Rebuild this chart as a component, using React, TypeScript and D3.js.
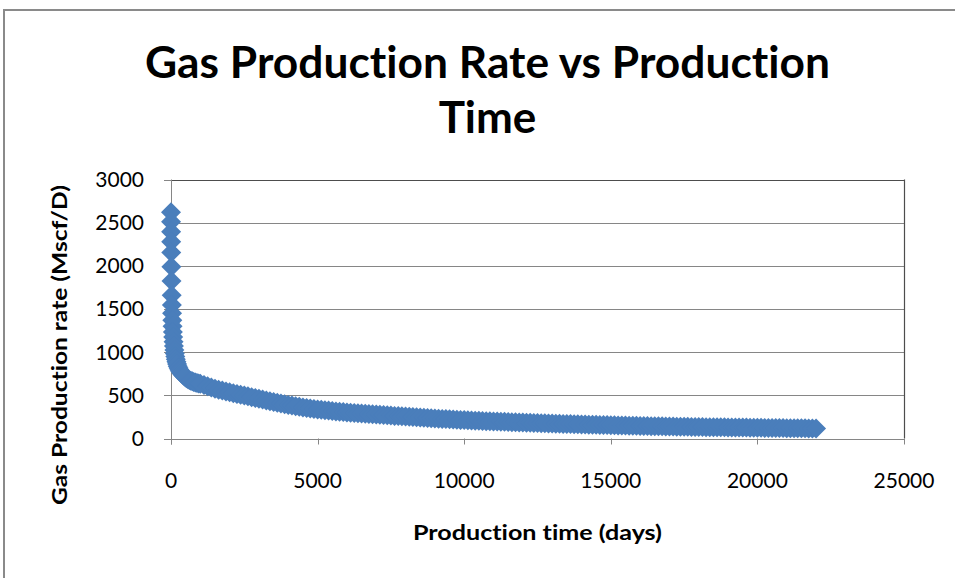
import React from 'react';
import * as d3 from 'd3';

// Production time (days) and gas rate (Mscf/D)
const days = [
  1, 2, 4, 6, 9, 13, 18, 24, 30, 37, 45, 54, 64, 75, 87, 100, 115, 130, 147, 165,
  185, 207, 231, 257, 285, 315, 347, 381, 417, 455, 495, 537, 581, 627, 675, 725, 777, 831, 887, 945,
  1000, 1125, 1250, 1375, 1500, 1625, 1750, 1875,
  2000, 2125, 2250, 2375, 2500, 2625, 2750, 2875,
  3000, 3125, 3250, 3375, 3500, 3625, 3750, 3875,
  4000, 4125, 4250, 4375, 4500, 4625, 4750, 4875,
  5000, 5125, 5250, 5375, 5500, 5625, 5750, 5875,
  6000, 6125, 6250, 6375, 6500, 6625, 6750, 6875,
  7000, 7125, 7250, 7375, 7500, 7625, 7750, 7875,
  8000, 8125, 8250, 8375, 8500, 8625, 8750, 8875,
  9000, 9125, 9250, 9375, 9500, 9625, 9750, 9875,
  10000, 10125, 10250, 10375, 10500, 10625, 10750, 10875,
  11000, 11125, 11250, 11375, 11500, 11625, 11750, 11875,
  12000, 12125, 12250, 12375, 12500, 12625, 12750, 12875,
  13000, 13125, 13250, 13375, 13500, 13625, 13750, 13875,
  14000, 14125, 14250, 14375, 14500, 14625, 14750, 14875,
  15000, 15125, 15250, 15375, 15500, 15625, 15750, 15875,
  16000, 16125, 16250, 16375, 16500, 16625, 16750, 16875,
  17000, 17125, 17250, 17375, 17500, 17625, 17750, 17875,
  18000, 18125, 18250, 18375, 18500, 18625, 18750, 18875,
  19000, 19125, 19250, 19375, 19500, 19625, 19750, 19875,
  20000, 20125, 20250, 20375, 20500, 20625, 20750, 20875,
  21000, 21125, 21250, 21375, 21500, 21625, 21750, 21875,
  22000,
];

const rates = [
  2620, 2510, 2395, 2280, 2155, 1990, 1825, 1660, 1545, 1450, 1370, 1300, 1235, 1175, 1120, 1070, 1025, 985, 950, 918,
  888, 862, 838, 816, 796, 778, 762, 747, 733, 720, 708, 697, 687, 678, 670, 662, 655, 649, 643, 638,
  633, 619, 605, 590, 577, 566, 556, 545,
  535, 525, 516, 506, 497, 488, 479, 469,
  460, 451, 441, 432, 422, 414, 405, 397,
  388, 381, 374, 367, 360, 354, 348, 343,
  337, 332, 327, 323, 318, 314, 310, 306,
  302, 299, 296, 292, 289, 286, 283, 280,
  277, 274, 271, 268, 265, 262, 260, 257,
  254, 251, 248, 246, 243, 240, 237, 235,
  232, 230, 227, 225, 222, 220, 218, 215,
  213, 211, 209, 207, 205, 203, 201, 200,
  198, 196, 194, 193, 191, 189, 188, 186,
  185, 183, 182, 180, 179, 178, 176, 175,
  174, 172, 171, 169, 168, 167, 166, 164,
  163, 162, 160, 159, 158, 157, 156, 155,
  154, 153, 152, 151, 150, 149, 148, 147,
  146, 145, 144, 143, 142, 141, 141, 140,
  139, 138, 137, 137, 136, 135, 134, 134,
  133, 132, 131, 131, 130, 130, 129, 129,
  128, 128, 127, 127, 126, 126, 125, 125,
  124, 124, 123, 123, 122, 122, 121, 121,
  120, 120, 119, 119, 118, 118, 117, 117,
  116,
];

const xTicks = [0, 5000, 10000, 15000, 20000, 25000];
const yTicks = [0, 500, 1000, 1500, 2000, 2500, 3000];
const titleLines = ['Gas Production Rate vs Production', 'Time'];
const xTitle = 'Production time (days)';
const yTitle = 'Gas Production rate (Mscf/D)';

const FONT = 'Lato, "Open Sans", sans-serif';
const GRID = '#868686';
const BLUE = '#4a7ebb';

export default function App() {
  const W = 955;
  const H = 578;
  const x = d3.scaleLinear().domain([0, 25000]).range([171, 904]);
  const y = d3.scaleLinear().domain([0, 3000]).range([438.5, 179.5]);
  const diamond = d3.symbol(d3.symbolSquare, 200)() as string;
  const pts = days.map((d, i) => ({ t: d, q: rates[i] }));

  const x0 = x(0);
  const x1 = x(25000);
  const yTop = y(3000);
  const yBot = y(0);
  const noLig = { fontVariantLigatures: 'none', fontFeatureSettings: '"liga" 0, "clig" 0' } as React.CSSProperties;

  return (
    <svg
      width={W}
      height={H}
      style={{ position: 'absolute', left: 0, top: 0, background: '#fff', ...noLig }}
      fontFamily={FONT}
    >
      <rect x={0} y={0} width={W} height={H} fill="#fff" />
      {/* chart frame */}
      <rect x={4} y={10} width={980} height={620} fill="#fff" stroke="#8a8a8a" strokeWidth={2} />

      {/* title */}
      <text x={487.5} y={78} textAnchor="middle" fontSize={44} fontWeight={700} fill="#000" style={noLig}
        textLength={685} lengthAdjust="spacingAndGlyphs">{titleLines[0]}</text>
      <text x={487.5} y={133} textAnchor="middle" fontSize={44} fontWeight={700} fill="#000" style={noLig}>{titleLines[1]}</text>

      {/* gridlines */}
      {yTicks.filter((v) => v !== 0 && v !== 3000).map((v) => (
        <line key={'g' + v} x1={x0 - 7} x2={x1} y1={Math.round(y(v)) + 0.5} y2={Math.round(y(v)) + 0.5}
          stroke={GRID} strokeWidth={1} />
      ))}
      {/* y tick at top */}
      <line x1={x0 - 7} x2={x0} y1={Math.round(yTop) + 0.5} y2={Math.round(yTop) + 0.5} stroke={GRID} />
      {/* plot border top/right */}
      <line x1={x0} x2={x1} y1={Math.round(yTop) + 0.5} y2={Math.round(yTop) + 0.5} stroke="#4d4d4d" strokeWidth={1.2} />
      <line x1={Math.round(x1) + 0.5} x2={Math.round(x1) + 0.5} y1={yTop} y2={yBot} stroke="#4d4d4d" strokeWidth={1.2} />

      {/* axes */}
      <line x1={x0 - 7} x2={x1} y1={Math.round(yBot) + 0.5} y2={Math.round(yBot) + 0.5} stroke={GRID} strokeWidth={1} />
      <line x1={Math.round(x0) + 0.5} x2={Math.round(x0) + 0.5} y1={yTop} y2={yBot + 6} stroke={GRID} strokeWidth={1} />
      {xTicks.map((v) => (
        <line key={'xt' + v} x1={Math.round(x(v)) + 0.5} x2={Math.round(x(v)) + 0.5} y1={yBot} y2={yBot + 6}
          stroke={GRID} strokeWidth={1} />
      ))}

      {/* tick labels */}
      {yTicks.map((v) => (
        <text key={'yl' + v} x={144} y={y(v)} dy="0.35em" textAnchor="end" fontSize={21} fill="#000">{v}</text>
      ))}
      {xTicks.map((v) => (
        <text key={'xl' + v} x={x(v)} y={481} dy="0.35em" textAnchor="middle" fontSize={21} fill="#000">{v}</text>
      ))}

      {/* data markers */}
      <g fill={BLUE}>
        {pts.map((p, i) => (
          <path key={i} d={diamond} transform={`translate(${x(p.t)},${y(p.q)}) rotate(45)`} />
        ))}
      </g>

      {/* axis titles */}
      <text x={537.5} y={540} textAnchor="middle" fontSize={21} fontWeight={700} fill="#000" style={noLig}
        textLength={249} lengthAdjust="spacingAndGlyphs">{xTitle}</text>
      <text transform="translate(67,345) rotate(-90)" textAnchor="middle" fontSize={21} fontWeight={700} fill="#000"
        style={noLig} textLength={320} lengthAdjust="spacingAndGlyphs">{yTitle}</text>
    </svg>
  );
}
